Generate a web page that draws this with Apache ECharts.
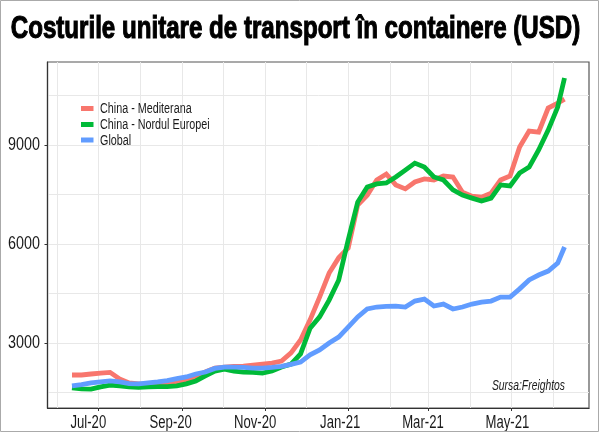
<!DOCTYPE html>
<html>
<head>
<meta charset="utf-8">
<script src="https://cdn.jsdelivr.net/npm/echarts@6/dist/echarts.min.js"></script>
<style>
html, body { margin: 0; padding: 0; background: #fff; }
#chart { width: 600px; height: 433px; }
</style>
</head>
<body>
<div id="chart"></div>
<script>
var dates = ['2020-06-12','2020-06-19','2020-06-26','2020-07-03','2020-07-10','2020-07-17','2020-07-24','2020-07-31','2020-08-07','2020-08-14','2020-08-21','2020-08-28','2020-09-04','2020-09-11','2020-09-18','2020-09-25','2020-10-02','2020-10-09','2020-10-16','2020-10-23','2020-10-30','2020-11-06','2020-11-13','2020-11-20','2020-11-27','2020-12-04','2020-12-11','2020-12-18','2020-12-25','2021-01-01','2021-01-08','2021-01-15','2021-01-22','2021-01-29','2021-02-05','2021-02-12','2021-02-19','2021-02-26','2021-03-05','2021-03-12','2021-03-19','2021-03-26','2021-04-02','2021-04-09','2021-04-16','2021-04-23','2021-04-30','2021-05-07','2021-05-14','2021-05-21','2021-05-28','2021-06-04','2021-06-09'];
var mediterana = [2030,2030,2060,2090,2110,1910,1790,1760,1730,1730,1760,1790,1850,1970,2120,2240,2270,2290,2300,2330,2360,2390,2450,2700,3090,3700,4390,5120,5580,5880,7180,7480,7940,8120,7790,7670,7880,7970,7940,8060,8030,7570,7450,7420,7540,7940,8060,8940,9420,9390,10120,10270,10390];
var nordulEuropei = [1640,1610,1600,1670,1720,1700,1670,1655,1670,1680,1680,1700,1760,1850,2000,2150,2210,2150,2120,2110,2090,2150,2270,2360,2670,3450,3790,4300,4900,6120,7270,7730,7820,7850,8030,8240,8450,8330,8030,7940,7640,7480,7390,7300,7390,7790,7760,8150,8330,8850,9450,10150,11030];
var global = [1700,1740,1790,1820,1850,1820,1770,1760,1790,1820,1860,1920,1970,2060,2120,2230,2270,2270,2260,2240,2240,2260,2290,2350,2420,2640,2790,3000,3180,3480,3790,4030,4090,4110,4120,4090,4270,4330,4120,4180,4030,4090,4180,4240,4270,4390,4390,4640,4910,5060,5180,5420,5910];

var monthTicks = ['2020-06-01','2020-07-01','2020-08-01','2020-09-01','2020-10-01','2020-11-01','2020-12-01','2021-01-01','2021-02-01','2021-03-01','2021-04-01','2021-05-01','2021-06-01'];
var labelTicks = ['2020-07-01','2020-09-01','2020-11-01','2021-01-01','2021-03-01','2021-05-01'];
var labelNames = ['Jul-20','Sep-20','Nov-20','Jan-21','Mar-21','May-21'];
var yTicks = [3000,6000,9000];
var yGrid = [1500,3000,4500,6000,7500,9000,10500];
var seriesNames = ['China - Mediterana', 'China - Nordul Europei', 'Global'];
var seriesColors = ['#F8766D', '#00BA38', '#619CFF'];

var FONT = '"Liberation Sans", sans-serif';
var xMin = +new Date('2020-05-25');
var xMax = +new Date('2021-06-27');

function toTime(s) { return +new Date(s); }
function pairs(vals) {
    return vals.map(function (v, i) { return [toTime(dates[i]), v]; });
}
function lineSeries(idx, vals) {
    return {
        name: seriesNames[idx],
        type: 'line',
        data: pairs(vals),
        showSymbol: false,
        symbol: 'none',
        lineStyle: { color: seriesColors[idx], width: 4.8, join: 'miter', cap: 'butt' },
        itemStyle: { color: seriesColors[idx] }
    };
}
// no condensed face is installed, so text is squeezed horizontally
function narrowText(text, x, y, size, scale, extra) {
    var style = { text: text, fontFamily: FONT, fontSize: size, fill: '#1a1a1a', align: 'left', verticalAlign: 'middle' };
    for (var k in extra) { style[k] = extra[k]; }
    return { type: 'text', silent: true, x: x, y: y, scaleX: scale, scaleY: 1, style: style };
}

var chart = echarts.init(document.getElementById('chart'), null, { renderer: 'canvas' });
chart.setOption({
    animation: false,
    backgroundColor: '#fff',
    grid: {
        left: 47.5, right: 11, top: 62, bottom: 25,
        show: true, borderColor: '#555', borderWidth: 1.2, backgroundColor: '#fff'
    },
    xAxis: [{
        type: 'value',
        min: xMin,
        max: xMax,
        axisLine: { onZero: false, lineStyle: { color: '#333', width: 1.2 } },
        axisTick: { show: true, length: 3, customValues: labelTicks.map(toTime), lineStyle: { color: '#333' } },
        axisLabel: { show: false },
        splitLine: { show: false }
    }, {
        type: 'value',
        min: xMin,
        max: xMax,
        position: 'bottom',
        axisLine: { show: false },
        axisTick: { show: false, customValues: monthTicks.map(toTime) },
        axisLabel: { show: false },
        splitLine: { show: true, lineStyle: { color: '#e8e8e8', width: 1 } }
    }],
    yAxis: [{
        type: 'value',
        min: 1030,
        max: 11515,
        axisLine: { show: true, onZero: false, lineStyle: { color: '#333', width: 1.2 } },
        axisTick: { show: true, length: 3, customValues: yTicks, lineStyle: { color: '#333' } },
        axisLabel: { show: false },
        splitLine: { show: false }
    }, {
        type: 'value',
        min: 1030,
        max: 11515,
        position: 'left',
        axisLine: { show: false },
        axisTick: { show: false, customValues: yGrid },
        axisLabel: { show: false },
        splitLine: { show: true, lineStyle: { color: '#e8e8e8', width: 1 } }
    }],
    series: [lineSeries(0, mediterana), lineSeries(1, nordulEuropei), lineSeries(2, global)]
});

var gfx = [];
gfx.push(narrowText('Costurile unitare de transport în containere (USD)', 295.5, 29, 31, 0.778, {
    align: 'center', fontWeight: 'bold', fill: '#000', stroke: '#000', lineWidth: 1.1
}));
var xShift = [-9.5, -11.5, -10, -8, -5.5, -4];
labelTicks.forEach(function (d, i) {
    var px = chart.convertToPixel({ xAxisIndex: 0 }, toTime(d));
    gfx.push(narrowText(labelNames[i], px + xShift[i], 423, 17.5, 0.75, { align: 'center' }));
});
yTicks.forEach(function (v) {
    var py = chart.convertToPixel({ yAxisIndex: 0 }, v);
    gfx.push(narrowText(String(v), 40, py, 17.5, 0.82, { align: 'right' }));
});
var legendY = [108.5, 124.5, 140];
seriesNames.forEach(function (name, i) {
    gfx.push({
        type: 'rect', silent: true,
        shape: { x: 81, y: legendY[i] - 2.5, width: 12.5, height: 5 },
        style: { fill: seriesColors[i] }
    });
    gfx.push(narrowText(name, 100, legendY[i] + 1, 14, 0.77));
});
gfx.push(narrowText('Sursa:Freightos', 565, 385.5, 15, 0.69, { align: 'right', fontStyle: 'italic' }));
gfx.push({
    type: 'rect', silent: true,
    shape: { x: 0.5, y: 0.5, width: 598, height: 431 },
    style: { fill: null, stroke: '#aaa', lineWidth: 1 }
});
chart.setOption({ graphic: gfx });
</script>
</body>
</html>
